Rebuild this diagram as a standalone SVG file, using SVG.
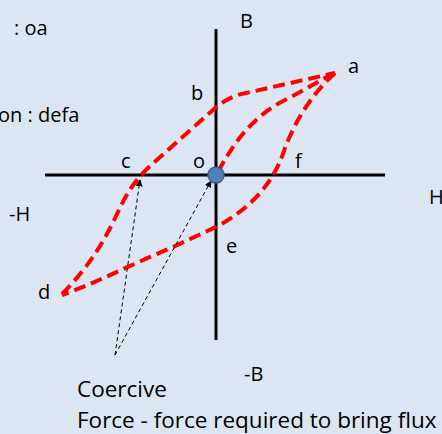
<svg xmlns="http://www.w3.org/2000/svg" width="442" height="434" viewBox="0 0 442 434">
<defs>
<style>
text{font-family:"Open Sans","Liberation Sans",sans-serif;fill:#000;font-size:20px}
.big{font-size:22.5px}
.axis{stroke:#000;stroke-width:3;fill:none}
.loop{stroke:#ff0000;stroke-width:4;fill:none;stroke-dasharray:12 6}
.lead{stroke:#000;stroke-width:1;fill:none;stroke-dasharray:4 3;marker-end:url(#ah)}
</style>
<marker id="ah" viewBox="0 0 10 10" refX="9" refY="5" markerWidth="7" markerHeight="7" orient="auto" markerUnits="userSpaceOnUse">
<path d="M0,0 L10,5 L0,10 Z" fill="#000"/>
</marker>
</defs>
<rect width="442" height="434" fill="#dce6f2"/>
<g id="axes">
<line class="axis" x1="216" y1="29" x2="216" y2="340"/>
<line class="axis" x1="45" y1="175" x2="385" y2="175"/>
</g>
<g id="connectors">
<path class="loop" d="M62,294 C 88,268 104,242 117,214 C 126,195 133,182 150,166 L 214,109 Q 229,96 246,93 L 335,73"/>
<path class="loop" d="M335,73 C 310,96 295,122 285,148 C 275,180 255,205 218,226 L 173,247 C 130,265 98,282 62,295"/>
<path class="loop" d="M218,172 C 235,140 255,115 285,100 C 305,90 320,80 335,73"/>
<line class="lead" x1="115" y1="355" x2="140" y2="180"/>
<line class="lead" x1="115" y1="355" x2="211" y2="181"/>
</g>
<g id="origin">
<circle cx="216" cy="175" r="8" fill="#4f81bd" stroke="#385d8a" stroke-width="1.5"/>
</g>
<g id="labels">
<text x="14" y="35">: oa</text>
<text x="-4" y="64">:</text>
<text x="-2" y="122">on : defa</text>
<text x="240" y="28">B</text>
<text x="348" y="73">a</text>
<text x="191" y="100">b</text>
<text x="193" y="168">o</text>
<text x="295" y="168">f</text>
<text x="121" y="168">c</text>
<text x="9" y="221">-H</text>
<text x="429" y="204">H</text>
<text x="38" y="299">d</text>
<text x="226" y="253">e</text>
<text x="244" y="381">-B</text>
<text class="big" x="77" y="397">Coercive</text>
<text class="big" x="77" y="428">Force - force required to bring flux</text>
</g>
</svg>
